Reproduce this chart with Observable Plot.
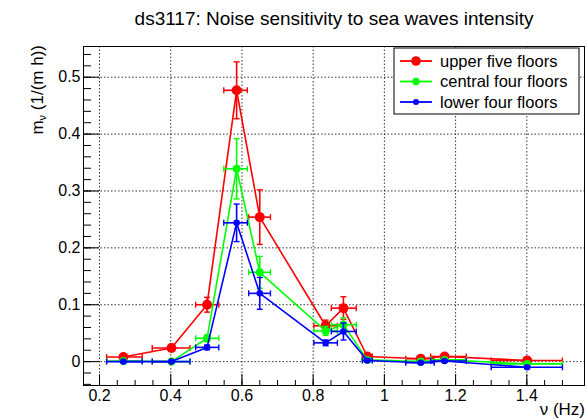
<!DOCTYPE html>
<html>
<head>
<meta charset="utf-8">
<script src="https://cdn.jsdelivr.net/npm/d3@7"></script>
<script src="https://cdn.jsdelivr.net/npm/@observablehq/plot@0.6"></script>
<style>
  body { margin: 0; background: #fff; }
  #chart { width: 587px; height: 419px; }
</style>
</head>
<body>
<div id="chart"></div>
<script>
// ---- data ----
const freq   = [0.267, 0.402, 0.502, 0.585, 0.650, 0.835, 0.885, 0.952, 1.102, 1.169, 1.401];
const freqLo = [0.220, 0.348, 0.470, 0.549, 0.619, 0.802, 0.851, 0.938, 1.060, 1.130, 1.300];
const freqHi = [0.320, 0.454, 0.535, 0.615, 0.680, 0.868, 0.921, 0.966, 1.140, 1.230, 1.500];

const upperVal   = [0.008, 0.024, 0.100, 0.477, 0.254, 0.063, 0.094, 0.009, 0.005, 0.009, 0.002];
const upperErr   = [0.004, 0.006, 0.013, 0.050, 0.048, 0.010, 0.020, 0.004, 0.003, 0.004, 0.003];
const centralVal = [0.001, 0.000, 0.041, 0.339, 0.157, 0.054, 0.065, 0.003, 0.000, 0.003, -0.004];
const centralErr = [0.001, 0.002, 0.006, 0.053, 0.028, 0.008, 0.012, 0.003, 0.002, 0.003, 0.002];
const lowerVal   = [0.000, 0.000, 0.025, 0.244, 0.120, 0.033, 0.053, 0.002, -0.002, 0.001, -0.010];
const lowerErr   = [0.001, 0.001, 0.004, 0.033, 0.028, 0.005, 0.015, 0.002, 0.002, 0.002, 0.002];

const seriesNames  = ["upper five floors", "central four floors", "lower four floors"];
const seriesColors = ["#ff0000", "#00ff00", "#0000ff"];
const seriesRadius = [5, 4, 3.3];

const xTicks = [0.2, 0.4, 0.6, 0.8, 1.0, 1.2, 1.4];
const yTicks = [0, 0.1, 0.2, 0.3, 0.4, 0.5];
const xMinor = d3.range(0, 27).map(i => +(0.2 + i * 0.05).toFixed(2)).filter(v => v <= 1.56);
const yMinor = d3.range(0, 30).map(i => +(-0.04 + i * 0.02).toFixed(2)).filter(v => v <= 0.55);

const title = "ds3117: Noise sensitivity to sea waves intensity";

// ---- build table ----
const vals = [upperVal, centralVal, lowerVal];
const errs = [upperErr, centralErr, lowerErr];
const rows = [];
vals.forEach((v, s) => v.forEach((y, i) => rows.push({
  s, x: freq[i], xlo: freqLo[i], xhi: freqHi[i], y, ylo: y - errs[s][i], yhi: y + errs[s][i]
})));

const W = 587, H = 419, mL = 83, mR = 3, mT = 46, mB = 34;
const fw = W - mL - mR, fh = H - mT - mB;
const capV = {draw(ctx) { ctx.moveTo(0, -3); ctx.lineTo(0, 3); }};
const capH = {draw(ctx) { ctx.moveTo(-3, 0); ctx.lineTo(3, 0); }};

const seriesMarks = [];
[0, 1, 2].forEach(s => {
  const d = rows.filter(r => r.s === s);
  const c = seriesColors[s];
  seriesMarks.push(
    Plot.line(d, {x: "x", y: "y", stroke: c, strokeWidth: 1.6}),
    Plot.link(d, {x1: "xlo", x2: "xhi", y1: "y", y2: "y", stroke: c, strokeWidth: 1.6}),
    Plot.link(d, {x1: "x", x2: "x", y1: "ylo", y2: "yhi", stroke: c, strokeWidth: 1.6}),
    Plot.dot(d, {x: "xlo", y: "y", symbol: capV, stroke: c, strokeWidth: 1.4, r: 3}),
    Plot.dot(d, {x: "xhi", y: "y", symbol: capV, stroke: c, strokeWidth: 1.4, r: 3}),
    Plot.dot(d, {x: "x", y: "ylo", symbol: capH, stroke: c, strokeWidth: 1.4, r: 3}),
    Plot.dot(d, {x: "x", y: "yhi", symbol: capH, stroke: c, strokeWidth: 1.4, r: 3}),
    Plot.dot(d, {x: "x", y: "y", r: seriesRadius[s], fill: c, stroke: "none"})
  );
});

const chart = Plot.plot({
  width: W, height: H,
  marginLeft: mL, marginRight: mR, marginTop: mT, marginBottom: mB,
  style: {fontFamily: "'Liberation Sans', Arial, sans-serif", fontSize: "16px", background: "white", color: "black"},
  x: {domain: [0.155, 1.562]},
  y: {domain: [-0.042, 0.554]},
  marks: [
    Plot.ruleX(xTicks, {x: d => d, stroke: "#000", strokeWidth: 0.8, strokeDasharray: "1.5,2"}),
    Plot.ruleY(yTicks, {y: d => d, stroke: "#000", strokeWidth: 0.8, strokeDasharray: "1.5,2"}),
    Plot.tickX(xMinor, {x: d => d, stroke: "#000", insetTop: fh - 5}),
    Plot.tickX(xTicks, {x: d => d, stroke: "#000", insetTop: fh - 11}),
    Plot.tickY(yMinor, {y: d => d, stroke: "#000", insetRight: fw - 8}),
    Plot.tickY(yTicks, {y: d => d, stroke: "#000", insetRight: fw - 16}),
    Plot.axisX({ticks: xTicks, tickSize: 0, tickPadding: 4, label: null, fontSize: 16,
      tickFormat: d => String(+d.toFixed(1))}),
    Plot.axisY({ticks: yTicks, tickSize: 0, tickPadding: 3, label: null, fontSize: 16,
      tickFormat: d => String(+d.toFixed(1))}),
    ...seriesMarks,
    Plot.frame({stroke: "#000", strokeWidth: 1})
  ]
});
document.getElementById("chart").appendChild(chart);

// ---- text and legend ----
const svg = d3.select(chart);
svg.selectAll('g[aria-label="x-axis tick label"], g[aria-label="y-axis tick label"]')
  .attr("font-size", 16).style("font-size", "16px");
const font = "'Liberation Sans', Arial, sans-serif";
svg.append("text").attr("x", 334).attr("y", 25).attr("text-anchor", "middle")
  .attr("font-family", font).attr("font-size", 19).attr("fill", "#000").text(title);

const yl = svg.append("text").attr("transform", "translate(43,45) rotate(-90)")
  .attr("text-anchor", "end").attr("font-family", font).attr("font-size", 17).attr("fill", "#000");
yl.append("tspan").text("m");
yl.append("tspan").attr("font-size", 11).attr("dy", 3).text("ν");
yl.append("tspan").attr("dy", -3).text(" (1/(m h))");

svg.append("text").attr("x", 585).attr("y", 415).attr("text-anchor", "end")
  .attr("font-family", font).attr("font-size", 17).attr("fill", "#000").text("ν (Hz)");

const lg = svg.append("g");
lg.append("rect").attr("x", 394).attr("y", 48).attr("width", 185).attr("height", 66)
  .attr("fill", "white").attr("stroke", "#000");
seriesNames.forEach((name, i) => {
  const y = 61 + i * 20.5;
  lg.append("line").attr("x1", 400).attr("x2", 432).attr("y1", y).attr("y2", y)
    .attr("stroke", seriesColors[i]).attr("stroke-width", 1.8);
  lg.append("circle").attr("cx", 416).attr("cy", y).attr("r", [4.8, 3.8, 3][i]).attr("fill", seriesColors[i]);
  lg.append("text").attr("x", 440).attr("y", y).attr("dy", "0.35em").attr("text-anchor", "start")
    .attr("font-family", font).attr("font-size", 16.5).attr("fill", "#000").text(name);
});
</script>
</body>
</html>
